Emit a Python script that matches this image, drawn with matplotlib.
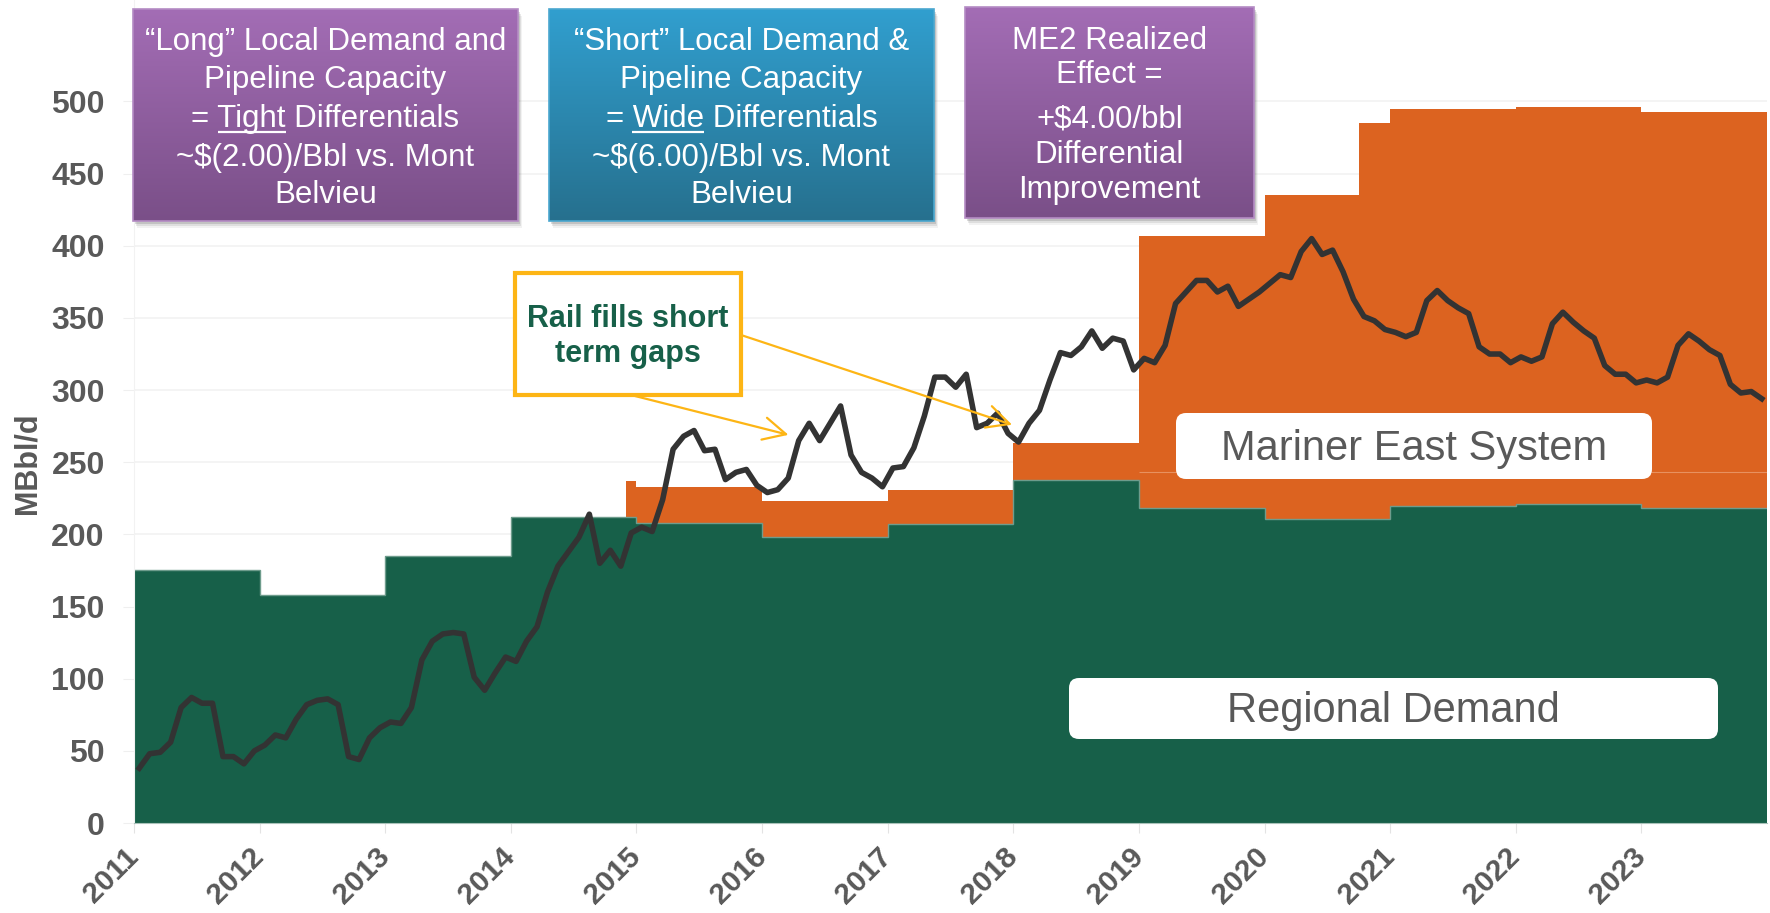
import numpy as np
import matplotlib
matplotlib.use('Agg')
import matplotlib.pyplot as plt
from matplotlib.patches import Rectangle, FancyBboxPatch
from matplotlib.colors import LinearSegmentedColormap

plt.rcParams['font.family'] = ['Liberation Sans', 'DejaVu Sans']

# regional demand, one level per calendar year (MBbl/d)
demand_edges = list(range(2011, 2025))
demand = [175, 158, 185, 212, 208, 198, 207, 238, 218, 211, 220, 221, 218]

# Mariner East takeaway capacity, top of the orange area
cap_edges = [2014.92, 2015, 2016, 2017, 2018, 2019, 2020, 2020.75, 2021, 2022, 2023, 2024]
cap_total = [237, 233, 223, 231, 263, 407, 435, 485, 495, 496, 493]
# ME1 / ME2 split from 2019 on
me1_edges = [2019, 2020, 2021, 2022, 2023, 2024]
me1_top = [243, 243, 243, 243, 243]

# monthly supply, Jan 2011 .. Dec 2023
supply = [
    38, 48, 49, 56, 80, 87, 83, 83, 46, 46, 41, 50,
    54, 61, 59, 72, 82, 85, 86, 82, 46, 44, 59, 66,
    70, 69, 80, 113, 126, 131, 132, 131, 101, 92, 104, 115,
    112, 126, 136, 160, 178, 188, 198, 214, 180, 189, 178, 201,
    205, 202, 224, 259, 268, 272, 258, 259, 238, 243, 245, 234,
    229, 231, 239, 265, 277, 265, 277, 289, 255, 243, 239, 233,
    246, 247, 260, 282, 309, 309, 302, 311, 274, 277, 284, 270,
    264, 277, 286, 307, 326, 324, 330, 341, 329, 336, 334, 314,
    322, 319, 331, 360, 368, 376, 376, 368, 372, 358, 363, 368,
    374, 380, 378, 396, 405, 394, 397, 382, 363, 351, 348, 342,
    340, 337, 340, 362, 369, 362, 357, 353, 330, 325, 325, 319,
    323, 320, 323, 346, 354, 347, 341, 336, 317, 311, 311, 305,
    307, 305, 309, 331, 339, 334, 328, 324, 304, 298, 299, 294,
]
month_pos = 2011 + (np.arange(len(supply)) + 0.5) / 12

year_ticks = list(range(2011, 2024))
y_ticks = list(range(0, 501, 50))

GREEN = '#176049'
ORANGE = '#DC6320'
GRAY = '#595959'
GOLD = '#FDB515'

fig = plt.figure(figsize=(17.7, 9.13), dpi=100)
W, H = 1770, 913
ax = fig.add_axes([134 / W, 90 / H, 1633 / W, 823 / H])

# orange sits on top of demand for each capacity segment
cap_bottom = [demand[int(np.floor(e)) - 2011] for e in cap_edges[:-1]]

ax.stairs(demand, demand_edges, baseline=0, fill=True, color=GREEN, zorder=2)
ax.stairs(demand, demand_edges, baseline=None, color='#6E9C8C', lw=1, zorder=2.1)
ax.stairs(cap_total, cap_edges, baseline=cap_bottom, fill=True, color=ORANGE, zorder=2)
ax.stairs(me1_top, me1_edges, baseline=None, color='#E8915F', lw=0.8, zorder=2.1)
ax.plot(month_pos, supply, color='#333333', lw=4, zorder=3, solid_joinstyle='round')

ax.set_xlim(2011, 2024)
ax.set_ylim(0, 823 / 1.443)
ax.set_yticks(y_ticks)
ax.set_yticklabels([str(v) for v in y_ticks], fontweight='bold')
ax.set_xticks(year_ticks)
ax.set_xticklabels([str(y) for y in year_ticks], rotation=45, ha='right', va='center',
                   rotation_mode='anchor', fontweight='bold')
ax.tick_params(axis='y', length=8, color='#EFEFEF', pad=13, labelsize=23, labelcolor=GRAY)
ax.tick_params(axis='x', length=7, color='#E3E3E3', pad=14, labelsize=21.5, labelcolor=GRAY)
ax.grid(axis='y', color='#F2F2F2', lw=1.2)
ax.set_axisbelow(True)
for s in ['top', 'right']:
    ax.spines[s].set_visible(False)
ax.spines['left'].set_color('#F2F2F2')
ax.spines['bottom'].set_color('#A9C2B9')

fig.text(27 / W, 1 - 463 / H, 'MBbl/d', rotation=90, ha='center', va='center',
         fontsize=22, fontweight='bold', color=GRAY)

# overlay in pixel coordinates (y downwards) for the callouts
ov = fig.add_axes([0, 0, 1, 1], zorder=5)
ov.axis('off')
renderer = fig.canvas.get_renderer()


def gradient_box(x0, y0, x1, y1, top, bottom, edge, lines, baselines):
    for k, a in [(7, 0.06), (5, 0.10), (3, 0.16)]:
        ov.add_patch(Rectangle((x0 + k * 0.5, y0 + k), x1 - x0, y1 - y0, color='#303030',
                               alpha=a, lw=0, zorder=1))
    cmap = LinearSegmentedColormap.from_list('grad', [top, bottom])
    ov.imshow(np.linspace(0, 1, 256).reshape(-1, 1), cmap=cmap, extent=(x0, x1, y1, y0),
              aspect='auto', zorder=2)
    ov.add_patch(Rectangle((x0, y0), x1 - x0, y1 - y0, fill=False, ec=edge, lw=1.2, zorder=3))
    out = []
    for txt, y in zip(lines, baselines):
        out.append(ov.text((x0 + x1) / 2, y, txt, color='white', fontsize=22.5, ha='center',
                           va='baseline', zorder=4, parse_math=False))
    return out


def underline(t, word, y):
    full = t.get_text()
    bb = t.get_window_extent(renderer)
    tmp = ov.text(0, 0, full[:full.index(word) + len(word)], fontsize=22.5, parse_math=False)
    w_pre = tmp.get_window_extent(renderer).width
    tmp.set_text(word)
    w_word = tmp.get_window_extent(renderer).width
    tmp.remove()
    x_end = bb.x0 + w_pre
    ov.plot([x_end - w_word, x_end], [y, y], color='white', lw=1.6, zorder=4,
            solid_capstyle='butt')


ov.set_xlim(0, W)
ov.set_ylim(H, 0)

b1 = gradient_box(133, 9, 518, 221, '#A36DB5', '#7A4F88', '#B48BC4',
                  ['\u201cLong\u201d Local Demand and', 'Pipeline Capacity',
                   '= Tight Differentials', '~$(2.00)/Bbl vs. Mont', 'Belvieu'],
                  [50, 88, 127, 166, 203])
b2 = gradient_box(549, 9, 934, 221, '#319FCF', '#26708E', '#4AA7CF',
                  ['\u201cShort\u201d Local Demand &', 'Pipeline Capacity',
                   '= Wide Differentials', '~$(6.00)/Bbl vs. Mont', 'Belvieu'],
                  [50, 88, 127, 166, 203])
b3 = gradient_box(965, 7, 1254, 218, '#A36DB5', '#7A4F88', '#B48BC4',
                  ['ME2 Realized', 'Effect =', '+$4.00/bbl', 'Differential', 'Improvement'],
                  [49, 83, 128, 163, 198])
ov.set_xlim(0, W)
ov.set_ylim(H, 0)
underline(b1[2], 'Tight', 132)
underline(b2[2], 'Wide', 132)

# rail callout
ov.add_patch(Rectangle((515, 273), 226, 122, fc='white', ec=GOLD, lw=3, zorder=2))
ov.text(628, 327, 'Rail fills short', ha='center', va='baseline', fontsize=22,
        fontweight='bold', color=GREEN, zorder=3)
ov.text(628, 362, 'term gaps', ha='center', va='baseline', fontsize=22,
        fontweight='bold', color=GREEN, zorder=3)
arrow = dict(arrowstyle='->,head_length=0.9,head_width=0.45', color=GOLD, lw=1.6,
             shrinkA=0, shrinkB=0, mutation_scale=18)
ov.annotate('', xy=(2016.21, 269), xycoords=ax.transData, xytext=(635, 396),
            textcoords='data', arrowprops=arrow, zorder=6)
ov.annotate('', xy=(2017.99, 276), xycoords=ax.transData, xytext=(741, 335),
            textcoords='data', arrowprops=arrow, zorder=6)

# series labels
ov.add_patch(FancyBboxPatch((1176, 413), 476, 66, boxstyle='round,pad=0,rounding_size=10',
                            fc='white', ec='none', zorder=2))
ov.text(1414, 460, 'Mariner East System', ha='center', va='baseline', fontsize=30,
        color=GRAY, zorder=3)
ov.add_patch(FancyBboxPatch((1069, 678), 649, 61, boxstyle='round,pad=0,rounding_size=10',
                            fc='white', ec='none', zorder=2))
ov.text(1393, 722, 'Regional Demand', ha='center', va='baseline', fontsize=30,
        color=GRAY, zorder=3)

ov.set_xlim(0, W)
ov.set_ylim(H, 0)
fig.savefig('out.png', dpi=100)
